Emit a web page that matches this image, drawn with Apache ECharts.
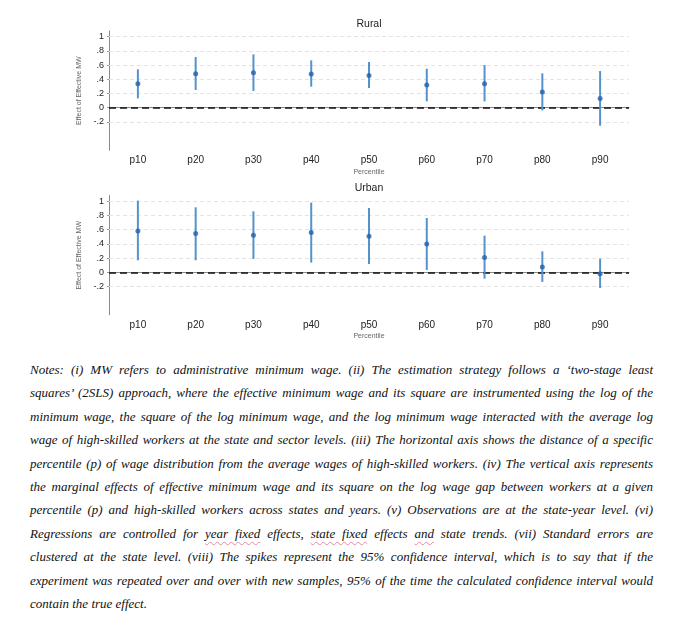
<!DOCTYPE html>
<html><head><meta charset="utf-8">
<script src="https://cdn.jsdelivr.net/npm/echarts@6/dist/echarts.min.js"></script>
<style>
html,body{margin:0;padding:0;background:#fff;width:678px;height:623px;overflow:hidden}
#chart{position:absolute;left:0;top:0;width:678px;height:350px}
#notes{position:absolute;left:30px;top:358px;width:623px;font-family:"Liberation Serif","DejaVu Serif",serif;font-style:italic;font-size:13px;line-height:23.4px;color:#111}
#notes div{text-align:justify;text-align-last:justify}
#notes div.last{text-align:left;text-align-last:left}
.sp{text-decoration:underline wavy #e28aa3;text-decoration-thickness:1px;text-underline-offset:3px}
</style>
</head><body>
<div id="chart"></div>
<div id="notes">
<div>Notes: (i) MW refers to administrative minimum wage. (ii) The estimation strategy follows a ‘two-stage least</div>
<div>squares’ (2SLS) approach, where the effective minimum wage and its square are instrumented using the log of the</div>
<div>minimum wage, the square of the log minimum wage, and the log minimum wage interacted with the average log</div>
<div>wage of high-skilled workers at the state and sector levels. (iii) The horizontal axis shows the distance of a specific</div>
<div>percentile (p) of wage distribution from the average wages of high-skilled workers. (iv) The vertical axis represents</div>
<div>the marginal effects of effective minimum wage and its square on the log wage gap between workers at a given</div>
<div>percentile (p) and high-skilled workers across states and years. (v) Observations are at the state-year level. (vi)</div>
<div>Regressions are controlled for <span class="sp">year fixed</span> effects, <span class="sp">state fixed</span> effects <span class="sp">and</span> state trends. (vii) Standard errors are</div>
<div>clustered at the state level. (viii) The spikes represent the 95% confidence interval, which is to say that if the</div>
<div>experiment was repeated over and over with new samples, 95% of the time the calculated confidence interval would</div>
<div class="last">contain the true effect.</div>
</div>
<script>
const categories = ['p10','p20','p30','p40','p50','p60','p70','p80','p90'];
const ruralEst = [0.338, 0.479, 0.493, 0.474, 0.455, 0.319, 0.338, 0.221, 0.131];
const ruralLo  = [0.131, 0.249, 0.235, 0.296, 0.277, 0.089, 0.089, -0.038, -0.254];
const ruralHi  = [0.540, 0.714, 0.751, 0.667, 0.643, 0.549, 0.601, 0.484, 0.516];
const urbanEst = [0.582, 0.545, 0.521, 0.559, 0.507, 0.399, 0.207, 0.075, -0.019];
const urbanLo  = [0.169, 0.169, 0.188, 0.136, 0.117, 0.033, -0.089, -0.136, -0.221];
const urbanHi  = [1.009, 0.915, 0.859, 0.981, 0.906, 0.765, 0.516, 0.296, 0.192];
const yTickValues = [-0.2, 0, 0.2, 0.4, 0.6, 0.8, 1];
const yTickLabels = ['-.2', '0', '.2', '.4', '.6', '.8', '1'];
const gridValues = [-0.2, 0.2, 0.4, 0.6, 0.8, 1];
const panelTitles = ['Rural', 'Urban'];

const FONT = '"Liberation Sans", Arial, sans-serif';
const tops = [31.0, 195.6];
const plotH = 119.3;

function labelFor(v) {
  const r = Math.round(v * 10) / 10;
  const k = yTickValues.findIndex(t => Math.abs(t - r) < 1e-6);
  return k >= 0 && Math.abs(v - r) < 1e-6 ? yTickLabels[k] : '';
}

const grids = [], xAxes = [], yAxes = [], series = [], graphics = [];
const panels = [[ruralEst, ruralLo, ruralHi], [urbanEst, urbanLo, urbanHi]];
panels.forEach((p, idx) => {
  const [est, lo, hi] = p;
  grids.push({left: 109, width: 520, top: tops[idx], height: plotH});
  xAxes.push({
    type: 'category', gridIndex: idx, data: categories, boundaryGap: true,
    axisLine: {lineStyle: {color: '#8a8a8a', width: 1}},
    axisTick: {alignWithLabel: true, length: 3, lineStyle: {color: '#555'}},
    axisLabel: {fontSize: 10, color: '#222', margin: 5, fontFamily: FONT},
    splitLine: {show: false},
    name: 'Percentile', nameLocation: 'middle', nameGap: 18,
    nameTextStyle: {fontSize: 7, color: '#666', fontFamily: FONT}
  });
  yAxes.push({
    type: 'value', gridIndex: idx, min: -0.6, max: 1.08, interval: 0.2,
    axisLine: {show: true, lineStyle: {color: '#8a8a8a', width: 1}},
    axisTick: {show: true, length: 2, customValues: yTickValues, lineStyle: {color: '#999'}},
    axisLabel: {customValues: yTickValues, formatter: labelFor, fontSize: 9, color: '#222', margin: 5, fontFamily: FONT},
    splitLine: {show: false},
    name: 'Effect of Effective MW', nameLocation: 'middle', nameGap: 15,
    nameTextStyle: {fontSize: 7, color: '#666', fontFamily: FONT}
  });
  series.push({
    type: 'line', xAxisIndex: idx, yAxisIndex: idx, data: [], z: 1, silent: true,
    markLine: {
      z: 1,
      silent: true, symbol: ['none', 'none'], label: {show: false}, animation: false,
      emphasis: {disabled: true},
      data: gridValues.map(v => ({yAxis: v, lineStyle: {color: '#e4e4e4', type: [4, 3], width: 1}}))
        .concat([{yAxis: 0, lineStyle: {color: '#111', type: [7, 4], width: 1.5}}])
    }
  });
  series.push({
    type: 'custom', xAxisIndex: idx, yAxisIndex: idx, z: 3, silent: true,
    emphasis: {disabled: true},
    data: categories.map((c, i) => [i, lo[i], hi[i]]),
    encode: {x: 0, y: [1, 2]},
    renderItem: function (params, api) {
      const i = api.value(0);
      const a = api.coord([i, api.value(1)]);
      const b = api.coord([i, api.value(2)]);
      return {type: 'line', shape: {x1: a[0], y1: a[1], x2: b[0], y2: b[1]},
        style: {stroke: '#5592cc', lineWidth: 2}};
    }
  });
  series.push({
    type: 'scatter', xAxisIndex: idx, yAxisIndex: idx, z: 6, silent: true,
    emphasis: {disabled: true},
    data: est, symbol: 'circle', symbolSize: 5,
    itemStyle: {color: '#2062ab', borderWidth: 0}
  });
  graphics.push({
    type: 'text', x: 369, y: tops[idx] - 7, silent: true,
    style: {text: panelTitles[idx], align: 'center', verticalAlign: 'middle',
      fontSize: 10.5, fill: '#222', fontFamily: FONT}
  });
});

const chart = echarts.init(document.getElementById('chart'), null, {renderer: 'canvas'});
chart.setOption({
  animation: false,
  backgroundColor: '#fff',
  tooltip: {show: false},
  grid: grids, xAxis: xAxes, yAxis: yAxes, series: series, graphic: graphics
});
</script>
</body></html>
